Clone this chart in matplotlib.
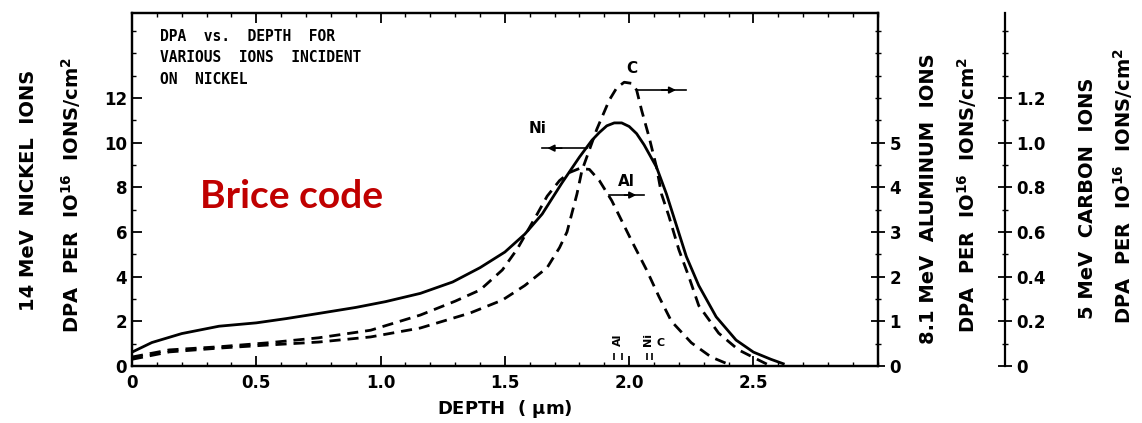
import matplotlib.pyplot as plt
from matplotlib.ticker import MultipleLocator

plt.rcParams['font.family'] = 'DejaVu Sans'
plt.rcParams['font.weight'] = 'bold'
plt.rcParams['mathtext.default'] = 'bf'

# depth (um) and DPA per 1e16 ions/cm2, each curve in its own axis units
ni_depth = [0.0, 0.08, 0.2, 0.35, 0.5, 0.62, 0.75, 0.9, 1.02, 1.16, 1.29, 1.4, 1.5,
            1.58, 1.65, 1.73, 1.8, 1.85, 1.88, 1.91, 1.94, 1.97, 2.0, 2.03, 2.06,
            2.11, 2.15, 2.19, 2.23, 2.28, 2.35, 2.43, 2.5, 2.57, 2.62]
ni_dpa = [0.62, 1.05, 1.45, 1.78, 1.93, 2.12, 2.35, 2.62, 2.88, 3.25, 3.76, 4.4, 5.1,
          5.9, 6.8, 8.2, 9.35, 10.1, 10.45, 10.75, 10.88, 10.88, 10.72, 10.4, 9.9,
          8.9, 7.7, 6.3, 4.9, 3.6, 2.2, 1.16, 0.62, 0.3, 0.1]

al_depth = [0.0, 0.15, 0.35, 0.55, 0.75, 0.96, 1.16, 1.3, 1.4, 1.49, 1.55, 1.63, 1.67,
            1.72, 1.76, 1.8, 1.84, 1.88, 1.93, 1.97, 2.01, 2.07, 2.12, 2.17, 2.25,
            2.33, 2.39]
al_dpa = [0.2, 0.36, 0.43, 0.52, 0.63, 0.8, 1.14, 1.45, 1.7, 2.15, 2.62, 3.4, 3.8,
          4.15, 4.33, 4.42, 4.4, 4.15, 3.7, 3.25, 2.8, 2.15, 1.55, 1.0, 0.52,
          0.2, 0.06]

c_depth = [0.0, 0.15, 0.35, 0.55, 0.75, 0.96, 1.16, 1.36, 1.49, 1.58, 1.67, 1.72, 1.75,
           1.79, 1.81, 1.87, 1.92, 1.95, 1.98, 2.01, 2.03, 2.05, 2.08, 2.11, 2.13,
           2.16, 2.2, 2.24, 2.28, 2.36, 2.44, 2.52, 2.56]
c_dpa = [0.03, 0.063, 0.08, 0.094, 0.107, 0.13, 0.17, 0.237, 0.295, 0.36, 0.44, 0.53, 0.6,
         0.77, 0.875, 1.06, 1.19, 1.245, 1.27, 1.265, 1.235, 1.145, 1.025, 0.89, 0.77,
         0.67, 0.52, 0.40, 0.27, 0.147, 0.072, 0.027, 0.005]

# projected range markers (depth) near the x axis
range_al = [1.94, 1.97]
range_ni_c = [2.07, 2.09]

x_ticks = [0, 0.5, 1.0, 1.5, 2.0, 2.5]
x_labels = ['0', '0.5', '1.0', '1.5', '2.0', '2.5']
ni_ticks = [0, 2, 4, 6, 8, 10, 12]
al_ticks = [0, 1, 2, 3, 4, 5]
c_ticks = [0, 0.2, 0.4, 0.6, 0.8, 1.0, 1.2]
c_labels = ['0', '0.2', '0.4', '0.6', '0.8', '1.0', '1.2']

fig = plt.figure(figsize=(11.42, 4.23), dpi=100)
ax = fig.add_axes([0.1156, 0.1348, 0.653, 0.8345])
ax_al = ax.twinx()
ax_c = ax.twinx()
ax_c.spines['right'].set_position(('axes', 1.17))

ymax = 15.8
ax.set_xlim(0, 3.0)
ax.set_ylim(0, ymax)
ax_al.set_ylim(0, ymax / 2)
ax_c.set_ylim(0, ymax / 10)

lw = 2.0
ax.plot(ni_depth, ni_dpa, color='black', lw=lw)
ax_al.plot(al_depth, al_dpa, color='black', lw=lw, dashes=(4, 2.5))
ax_c.plot(c_depth, c_dpa, color='black', lw=lw, dashes=(4, 2.5))

for a in (ax, ax_al, ax_c):
    for s in a.spines.values():
        s.set_linewidth(1.6)
ax_c.spines['top'].set_visible(False)
ax_c.spines['left'].set_visible(False)
ax_c.spines['bottom'].set_visible(False)

ax.set_xticks(x_ticks)
ax.set_xticklabels(x_labels)
ax.xaxis.set_minor_locator(MultipleLocator(0.1))
ax.set_yticks(ni_ticks)
ax.yaxis.set_minor_locator(MultipleLocator(1))
ax.tick_params(axis='both', which='major', direction='in', length=7, width=1.3,
               labelsize=12, top=True)
ax.tick_params(axis='both', which='minor', direction='in', length=3, width=1, top=True)
ax.tick_params(axis='x', pad=6)

ax_al.set_yticks(al_ticks)
ax_al.yaxis.set_minor_locator(MultipleLocator(0.5))
ax_al.tick_params(axis='y', which='major', direction='inout', length=10, width=1.3,
                  labelsize=12)
ax_al.tick_params(axis='y', which='minor', direction='inout', length=4, width=1)

ax_c.set_yticks(c_ticks)
ax_c.set_yticklabels(c_labels)
ax_c.yaxis.set_minor_locator(MultipleLocator(0.1))
ax_c.tick_params(axis='y', which='major', direction='inout', length=10, width=1.3,
                 labelsize=12)
ax_c.tick_params(axis='y', which='minor', direction='inout', length=4, width=1)

ax.set_xlabel(r'DEPTH  ( $\mu$m)', fontsize=13, fontweight='bold', labelpad=4)

# axis titles
fig.text(0.025, 0.55, '14 MeV  NICKEL  IONS', rotation=90, ha='center', va='center',
         fontsize=14)
fig.text(0.062, 0.54, r'DPA  PER  IO$^{16}$  IONS/cm$^2$', rotation=90, ha='center',
         va='center', fontsize=14)
fig.text(0.813, 0.53, '8.1 MeV  ALUMINUM  IONS', rotation=90, ha='center',
         va='center', fontsize=14)
fig.text(0.847, 0.54, r'DPA  PER  IO$^{16}$  IONS/cm$^2$', rotation=90, ha='center',
         va='center', fontsize=14)
fig.text(0.952, 0.53, '5 MeV  CARBON  IONS', rotation=90, ha='center', va='center',
         fontsize=14)
fig.text(0.983, 0.56, r'DPA  PER  IO$^{16}$  IONS/cm$^2$', rotation=90, ha='center',
         va='center', fontsize=14)

ax.text(0.0375, 0.955, 'DPA  vs.  DEPTH  FOR\nVARIOUS  IONS  INCIDENT\nON  NICKEL',
        transform=ax.transAxes, ha='left', va='top', fontsize=10.5,
        family='DejaVu Sans Mono', linespacing=1.55)

ax.text(0.091, 0.48, 'Brice code', transform=ax.transAxes, ha='left', va='center',
        fontsize=28, color='#c00000', family='Lato', fontweight='bold')

# curve labels with arrows pointing towards their own axis
ax.text(1.99, 13.0, 'C', fontsize=11, ha='left', va='bottom')
ax.plot([2.03, 2.23], [12.35, 12.35], color='black', lw=1.2)
ax.annotate('', xy=(2.2, 12.35), xytext=(2.12, 12.35),
            arrowprops=dict(arrowstyle='-|>', color='black', lw=1.2, mutation_scale=10))
ax.text(1.63, 10.3, 'Ni', fontsize=11, ha='center', va='bottom')
ax.plot([1.65, 1.83], [9.75, 9.75], color='black', lw=1.2)
ax.annotate('', xy=(1.66, 9.75), xytext=(1.74, 9.75),
            arrowprops=dict(arrowstyle='-|>', color='black', lw=1.2, mutation_scale=10))
ax.text(1.99, 7.9, 'Al', fontsize=11, ha='center', va='bottom')
ax.plot([1.92, 2.06], [7.65, 7.65], color='black', lw=1.2)
ax.annotate('', xy=(2.04, 7.65), xytext=(1.97, 7.65),
            arrowprops=dict(arrowstyle='-|>', color='black', lw=1.2, mutation_scale=10))

# projected range marks
ax.vlines(range_al, 0.25, 0.6, color='black', lw=1.2)
ax.vlines(range_ni_c, 0.25, 0.6, color='black', lw=1.2)
ax.text(1.955, 0.9, 'Al', rotation=90, fontsize=8, ha='center', va='bottom')
ax.text(2.075, 0.9, 'Ni', rotation=90, fontsize=8, ha='center', va='bottom')
ax.text(2.11, 0.8, 'C', fontsize=8, ha='left', va='bottom')

fig.savefig('out.png', dpi=100, facecolor='white')
